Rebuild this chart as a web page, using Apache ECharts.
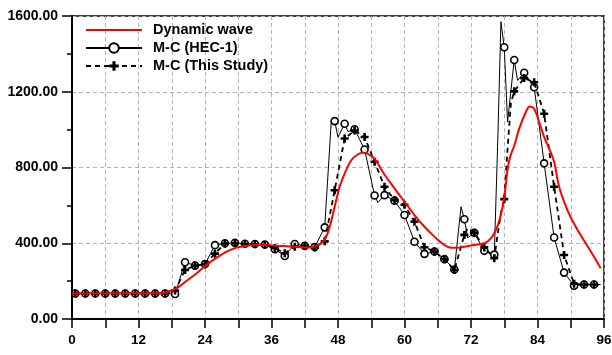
<!DOCTYPE html>
<html>
<head>
<meta charset="utf-8">
<script src="https://cdn.jsdelivr.net/npm/echarts@6/dist/echarts.min.js"></script>
<style>
  html, body { margin: 0; padding: 0; background: #fff; }
  #chart { width: 612px; height: 355px; }
</style>
</head>
<body>
<div id="chart"></div>
<script>
// Discharge hydrographs (time in hours, flow in cms)
const seriesNames = ['Dynamic wave', 'M-C (HEC-1)', 'M-C (This Study)'];

const waveTimes = [0, 16, 17.1, 18.9, 20.7, 22.5, 24.3, 26.1, 27.9, 29.7, 31.5, 33.3, 35.1, 36.9, 38.7, 41.1, 42.9, 44.4, 45.6, 46.5, 47.4, 48.3, 49.2, 50.4, 51.6, 52.5, 53.4, 54.6, 56.4, 58.2, 60.0, 61.8, 63.6, 65.4, 67.2, 68.4, 69.6, 70.8, 72.6, 74.4, 75.6, 76.5, 77.3, 78.0, 78.6, 79.1, 79.8, 80.7, 81.9, 82.6, 83.4, 84.3, 85.2, 86.1, 87.0, 87.9, 89.4, 90.9, 92.7, 94.2, 95.4];
const waveFlows = [135, 136, 142, 163, 202, 242, 286, 324, 356, 377, 387, 391, 391, 387, 384, 380, 378, 390, 420, 487, 593, 698, 768, 838, 870, 878, 872, 845, 762, 690, 619, 549, 487, 435, 391, 376, 376, 382, 391, 400, 426, 470, 540, 640, 790, 860, 915, 1005, 1093, 1122, 1110, 1040, 961, 900, 830, 698, 575, 487, 400, 329, 268];

const hec1Times = [0.6, 2.4, 4.2, 6.0, 7.8, 9.6, 11.4, 13.2, 15.0, 16.8, 18.6, 20.4, 22.2, 24.0, 25.8, 27.6, 29.4, 31.2, 33.0, 34.8, 36.6, 38.4, 40.2, 42.0, 43.8, 45.6, 46.8, 47.4, 48.0, 49.2, 49.8, 51.0, 52.8, 54.6, 55.2, 56.4, 58.2, 60.0, 61.8, 63.6, 65.4, 67.2, 69.0, 70.2, 70.8, 71.4, 72.6, 74.4, 76.2, 76.8, 77.4, 78.0, 78.6, 79.8, 80.4, 81.6, 83.4, 85.2, 87.0, 88.8, 90.6, 92.4, 94.2, 95.4];
const hec1Flows = [135, 135, 135, 135, 135, 135, 135, 135, 135, 135, 132, 300, 282, 290, 390, 400, 402, 397, 396, 393, 368, 333, 396, 386, 380, 484, 1050, 1045, 960, 1031, 990, 1002, 895, 652, 615, 654, 625, 549, 408, 344, 356, 316, 261, 593, 527, 428, 455, 360, 340, 910, 1570, 1435, 1040, 1368, 1260, 1300, 1224, 822, 430, 245, 176, 182, 182, 182];

const studyTimes = [0.6, 2.4, 4.2, 6.0, 7.8, 9.6, 11.4, 13.2, 15.0, 16.8, 18.6, 20.4, 22.2, 24.0, 25.8, 27.6, 29.4, 31.2, 33.0, 34.8, 36.6, 38.4, 40.2, 42.0, 43.8, 45.6, 47.4, 49.2, 51.0, 52.8, 54.6, 56.4, 58.2, 60.0, 61.8, 63.6, 65.4, 67.2, 69.0, 70.8, 71.4, 72.6, 74.4, 76.2, 76.8, 77.4, 78.0, 78.6, 79.2, 79.8, 81.6, 83.4, 85.2, 87.0, 88.8, 90.6, 92.4, 94.2, 95.4];
const studyFlows = [135, 135, 135, 135, 135, 135, 135, 135, 135, 135, 150, 259, 282, 289, 345, 398, 400, 396, 395, 391, 375, 347, 382, 386, 378, 410, 680, 953, 995, 961, 830, 698, 628, 603, 514, 379, 356, 316, 259, 444, 480, 455, 378, 321, 444, 560, 633, 900, 1140, 1202, 1272, 1250, 1084, 698, 338, 186, 182, 182, 182];

const xTicks = [0, 12, 24, 36, 48, 60, 72, 84, 96];
const yTicks = [0, 400, 800, 1200, 1600];

// Markers sit on the 1.8 h reporting steps starting at 0.6 h
function onMarkerStep(t) {
  const k = (t - 0.6) / 1.8;
  return Math.abs(k - Math.round(k)) < 1e-6;
}
const zip = (ts, qs) => ts.map((t, i) => [t, qs[i]]);

const plusPath = 'path://M2.7,0H5.3V2.7H8V5.3H5.3V8H2.7V5.3H0V2.7H2.7Z';
const gridDash = { color: '#b4b4b4', width: 1, type: [4, 3] };
const labelFont = { color: '#000', fontWeight: 'bold', fontFamily: '"Liberation Sans", Arial, sans-serif', fontSize: 14 };

const chart = echarts.init(document.getElementById('chart'), null, { renderer: 'canvas' });
chart.setOption({
  animation: false,
  backgroundColor: '#fff',
  grid: {
    left: 72, right: 8, top: 16, bottom: 36,
    show: true, borderColor: '#000', borderWidth: 1.5,
    containLabel: false, outerBoundsMode: 'none'
  },
  legend: {
    orient: 'vertical',
    left: 85, top: 21, padding: 0, itemGap: 0,
    itemWidth: 56, itemHeight: 12,
    textStyle: Object.assign({}, labelFont, { fontSize: 14.5, lineHeight: 18, padding: [0, 0, 0, 6] }),
    data: [
      { name: seriesNames[0], itemStyle: { color: 'rgba(0,0,0,0)', borderColor: 'rgba(0,0,0,0)', borderWidth: 0 } },
      { name: seriesNames[1] },
      { name: seriesNames[2] }
    ]
  },
  xAxis: {
    type: 'value', min: 0, max: 96, interval: 6,
    axisLine: { show: true, onZero: false, lineStyle: { color: '#000', width: 2 } },
    axisTick: { show: true, inside: false, length: 9, lineStyle: { color: '#000', width: 1.5 } },
    axisLabel: Object.assign({}, labelFont, {
      margin: 14, fontSize: 13.5,
      formatter: v => (xTicks.indexOf(v) >= 0 ? String(v) : '')
    }),
    splitLine: { show: true, lineStyle: gridDash }
  },
  yAxis: {
    type: 'value', min: 0, max: 1600, interval: 400,
    axisLine: { show: true, onZero: false, lineStyle: { color: '#000', width: 2 } },
    axisTick: { show: true, inside: false, length: 10, lineStyle: { color: '#000', width: 1.5 } },
    minorTick: { show: true, splitNumber: 2, length: 5, lineStyle: { color: '#000', width: 1.5 } },
    axisLabel: Object.assign({}, labelFont, {
      margin: 14,
      formatter: v => (yTicks.indexOf(v) >= 0 ? v.toFixed(2) : '')
    }),
    splitLine: { show: true, lineStyle: gridDash }
  },
  series: [
    {
      name: seriesNames[0], type: 'line', z: 4,
      data: zip(waveTimes, waveFlows),
      smooth: 0.35, symbol: 'none',
      lineStyle: { color: '#ff0000', width: 2 },
      itemStyle: { color: '#ff0000' }
    },
    {
      name: seriesNames[1], type: 'line', z: 2,
      data: zip(hec1Times, hec1Flows),
      symbol: 'circle', showAllSymbol: true,
      symbolSize: v => (onMarkerStep(v[0]) ? 7 : 0),
      lineStyle: { color: '#000', width: 1 },
      itemStyle: { color: '#fff', borderColor: '#000', borderWidth: 1.6 }
    },
    {
      name: seriesNames[2], type: 'line', z: 3,
      data: zip(studyTimes, studyFlows),
      symbol: plusPath, showAllSymbol: true,
      symbolSize: v => (onMarkerStep(v[0]) ? 8 : 0),
      lineStyle: { color: '#000', width: 1.8, type: [5, 4] },
      itemStyle: { color: '#000', borderWidth: 0 }
    }
  ]
});
</script>
</body>
</html>
